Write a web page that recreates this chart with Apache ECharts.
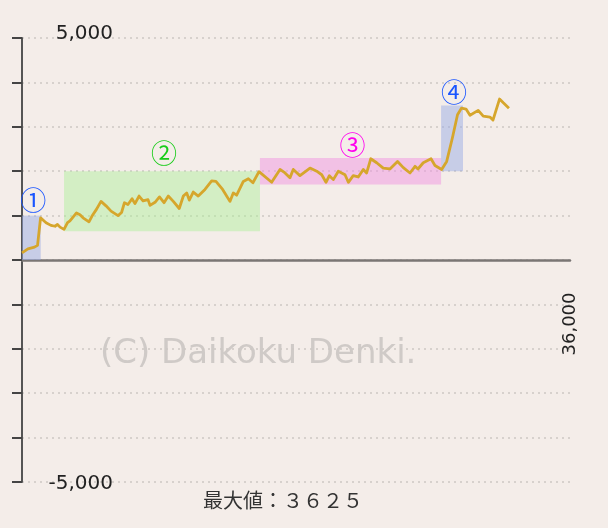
<!DOCTYPE html>
<html>
<head>
<meta charset="utf-8">
<script src="https://cdn.jsdelivr.net/npm/echarts@6/dist/echarts.min.js"></script>
<style>
html,body{margin:0;padding:0;background:#f4ede9;}
#c{width:608px;height:528px;}
</style>
</head>
<body>
<div id="c"></div>
<script>
// ---- data ----
var xValues = [0,390,820,1020,1220,1580,1900,2170,2330,2500,
  2760,2990,3150,3280,3580,3810,4010,4400,4600,4890,
  5190,5520,5850,6310,6540,6730,6960,7230,7420,7690,
  7950,8280,8410,8740,9030,9330,9610,9940,10330,10600,
  10820,10990,11250,11580,12020,12460,12740,13180,13660,13880,
  14100,14540,14870,15170,15570,16400,16950,17280,17600,17820,
  18260,18920,19360,19690,19970,20190,20450,20780,21220,21440,
  21760,22090,22420,22640,22910,23300,23730,24170,24670,25050,
  25490,25820,26010,26360,26870,27130,27570,27900,28280,28610,
  28870,29170,29430,29970,30300,30740,30940,31370,31620,31990];
var yValues = [160,250,290,330,950,840,780,760,800,740,
  690,840,880,840,1060,1020,950,860,990,1140,
  1320,1220,1100,1000,1070,1290,1250,1380,1270,1440,
  1330,1360,1230,1300,1420,1290,1440,1320,1160,1440,
  1510,1350,1530,1440,1590,1780,1770,1590,1320,1510,
  1460,1770,1830,1740,1990,1750,2040,1960,1850,2040,
  1900,2070,2000,1920,1750,1900,1810,2000,1920,1750,
  1900,1870,2040,1960,2280,2190,2070,2050,2220,2080,
  1960,2110,2050,2190,2280,2130,2040,2220,2760,3270,
  3420,3400,3260,3370,3240,3220,3150,3625,3540,3420];

var areaX0 = [0, 2760, 15630, 27530];
var areaX1 = [1230, 15630, 27530, 28970];
var areaY0 = [0, 650, 1700, 2000];
var areaY1 = [1000, 2000, 2300, 3480];
var areaLabels = ['①', '②', '③', '④'];

var yTickLabels = {'5000': '5,000', '-5000': '-5,000'};
var xTickLabels = {'36000': '36,000'};
var maxLabelPrefix = '最大値：';
var watermark = '(C) Daikoku Denki.';

// ---- styles ----
var areaColors = ['rgba(150,170,230,0.48)', 'rgba(170,240,150,0.45)', 'rgba(240,150,225,0.5)', 'rgba(150,170,230,0.48)'];
var labelColors = ['#1a55ff', '#19cc19', '#ff00ee', '#1a55ff'];
var labelDist = [2, 5, 0, 0];

var lineData = xValues.map(function (x, i) { return [x, yValues[i]]; });
var areaData = areaX0.map(function (x0, i) {
  return [
    { xAxis: x0, yAxis: areaY0[i], itemStyle: { color: areaColors[i] },
      label: { show: true, position: 'top', formatter: areaLabels[i], color: labelColors[i],
               fontSize: 26, fontFamily: 'Noto Sans CJK JP', distance: labelDist[i], offset: [2, 0] } },
    { xAxis: areaX1[i], yAxis: areaY1[i] }
  ];
});

var maxVal = Math.max.apply(null, yValues);
var fullWidth = String(maxVal).replace(/[0-9]/g, function (c) { return String.fromCharCode(c.charCodeAt(0) + 0xFEE0); });

var chart = echarts.init(document.getElementById('c'), null, { renderer: 'canvas' });
chart.setOption({
  backgroundColor: '#f4ede9',
  animation: false,
  grid: { left: 22, top: 38, width: 548, height: 444, outerBoundsMode: 'none', containLabel: false },
  xAxis: {
    type: 'value', min: 0, max: 36000, interval: 36000,
    offset: -221.5,
    axisLine: { onZero: false, lineStyle: { color: '#7a7674', width: 2.5 } },
    axisTick: { show: false },
    splitLine: { show: false },
    axisLabel: {
      rotate: 90, margin: 32, fontFamily: 'DejaVu Sans', fontSize: 18, color: '#222',
      showMinLabel: true, showMaxLabel: true,
      formatter: function (v) { return xTickLabels[String(v)] || ''; }
    }
  },
  yAxis: {
    type: 'value', min: -5000, max: 5000, interval: 1000,
    axisLine: { show: true, onZero: false, lineStyle: { color: '#555', width: 2 } },
    axisTick: { show: true, inside: false, length: 10, lineStyle: { color: '#444', width: 2 } },
    splitLine: { show: true, lineStyle: { color: '#cdc8c4', width: 1.5, type: [2, 4] } },
    axisLabel: {
      inside: true, margin: 91, align: 'right', fontFamily: 'DejaVu Sans', fontSize: 20, color: '#222',
      formatter: function (v) {
        var t = yTickLabels[String(v)];
        if (!t) return '';
        return v > 0 ? '{top|' + t + '}' : '{bot|' + t + '}';
      },
      rich: {
        top: { fontFamily: 'DejaVu Sans', fontSize: 20, color: '#222', padding: [0, 0, 8, 0] },
        bot: { fontFamily: 'DejaVu Sans', fontSize: 20, color: '#222', padding: [3, 0, 0, 0] }
      }
    }
  },
  graphic: [
    { type: 'text', left: 100, top: 337, z: -1, silent: true,
      style: { text: watermark, fontFamily: 'DejaVu Sans', fontSize: 34, fill: '#cfcac7' } },
    { type: 'text', left: 203, top: 490, silent: true,
      style: { text: maxLabelPrefix + fullWidth, fontFamily: 'Noto Sans CJK JP', fontSize: 20, fill: '#333' } }
  ],
  series: [
    {
      type: 'line', data: lineData, showSymbol: false, z: 2,
      lineStyle: { color: '#d6a62c', width: 2.8, join: 'round' }
    },
    {
      type: 'line', data: [], z: 10,
      markArea: { silent: true, data: areaData }
    }
  ]
});
</script>
</body>
</html>
